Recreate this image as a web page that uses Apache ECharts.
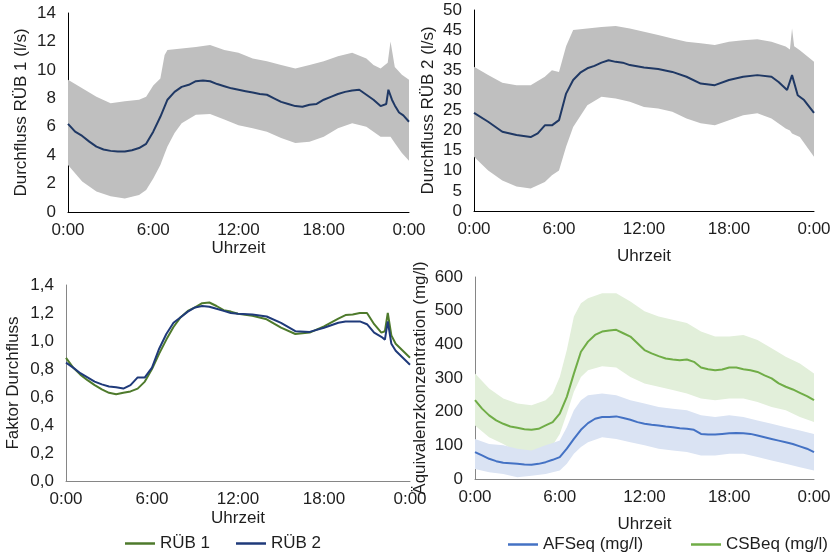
<!DOCTYPE html>
<html>
<head>
<meta charset="utf-8">
<script src="https://cdn.jsdelivr.net/npm/echarts@6/dist/echarts.min.js"></script>
<style>
  html, body { margin: 0; padding: 0; background: #fff; }
  #chart { width: 835px; height: 555px; }
</style>
</head>
<body>
<div id="chart"></div>
<script>
// Uhrzeit in Stunden (0..24)
var tQ1 = [0,0.5,1,1.5,2,2.5,3,3.5,4,4.5,5,5.5,6,6.5,7,7.5,8,8.5,9,9.5,10,10.5,11,11.5,12,12.5,13,13.5,14,14.5,15,15.5,16,16.5,17,17.5,18,18.5,19,19.5,20,20.5,21,21.5,22,22.4,22.55,22.8,23,23.3,23.6,24];
var q1Mittel = [6.2,5.65,5.35,4.95,4.6,4.4,4.3,4.25,4.25,4.35,4.5,4.8,5.65,6.7,7.9,8.45,8.8,8.95,9.2,9.25,9.2,9.0,8.85,8.7,8.6,8.5,8.4,8.3,8.25,8.0,7.75,7.6,7.45,7.4,7.55,7.6,7.9,8.1,8.3,8.45,8.55,8.6,8.25,7.9,7.45,7.6,8.6,7.9,7.5,7.0,6.8,6.35];
var tQ1Band = [0,1,2,3,4,5,5.5,6,6.5,6.8,7,7.5,8,9,10,11,12,13,14,15,16,17,18,19,20,21,21.5,22,22.5,22.7,23,23.5,24];
var q1Max = [9.3,8.7,8.1,7.65,7.8,7.9,8.1,8.9,9.4,11.05,11.4,11.45,11.5,11.6,11.75,11.4,11.2,10.8,10.6,10.35,10.1,10.35,10.6,10.95,11.2,10.8,10.35,10.1,10.5,12.0,10.2,9.65,9.3];
var q1Min = [3.3,2.15,1.45,1.1,0.95,1.2,1.55,2.35,3.3,4.1,4.6,5.55,6.25,6.85,6.9,6.5,6.1,5.9,5.65,5.2,4.85,4.95,5.3,5.9,6.25,6.0,5.65,5.3,5.3,5.3,4.85,4.15,3.6];

var tQ2 = [0,1,2,3,4,4.5,5,5.5,6,6.5,7,7.5,8,8.5,9,9.5,10,10.5,11,12,13,14,15,16,17,18,19,20,21,21.5,22.1,22.45,22.85,23.3,24];
var q2Mittel = [24.4,22.2,19.7,18.9,18.4,19.3,21.3,21.3,22.6,29.2,32.6,34.4,35.5,36.1,36.9,37.5,37.1,36.9,36.3,35.7,35.3,34.6,33.4,31.7,31.3,32.6,33.4,33.8,33.4,32.1,30.1,33.8,28.8,27.6,24.4];
var tQ2Band = [0,1,2,3,4,5,5.5,6,6.5,7,8,9,10,11,12,13,14,15,16,17,18,19,20,21,22,22.3,22.45,22.6,23,24];
var q2Max = [35.9,33.8,31.9,31.3,31.3,33.4,35,34.6,41,45,45.4,45.8,46,45.4,44.6,43.8,42.9,42.1,41.7,41.3,42.1,42.5,42.7,42.1,40.9,40.2,45.4,41,40,37.1];
var q2Min = [13.5,10.1,7.6,6.1,5.6,7.2,8.9,10.1,16,20.9,26.3,28.4,28,27.2,25.9,25.5,24.7,23,21.8,21.3,22.6,23.8,24.3,23,20.5,20,19.3,19,18.4,13.5];

var tFaktor = [0,0.5,1,1.5,2,2.5,3,3.5,4,4.5,5,5.5,6,6.5,7,7.5,8,8.5,9,9.5,10,10.5,11,11.5,12,13,14,15,16,17,18,19,19.5,20,20.5,21,21.5,22,22.25,22.45,22.7,23,23.5,24];
var faktorRUEB1 = [0.88,0.81,0.76,0.72,0.685,0.655,0.63,0.62,0.63,0.64,0.66,0.71,0.8,0.91,1.01,1.1,1.17,1.215,1.24,1.27,1.275,1.25,1.22,1.21,1.195,1.18,1.155,1.095,1.05,1.06,1.105,1.16,1.185,1.19,1.2,1.2,1.12,1.06,1.07,1.2,1.04,0.98,0.93,0.88];
var faktorRUEB2 = [0.845,0.81,0.77,0.74,0.71,0.69,0.675,0.67,0.66,0.685,0.74,0.74,0.81,0.945,1.05,1.13,1.17,1.21,1.24,1.25,1.245,1.23,1.215,1.2,1.195,1.19,1.175,1.13,1.07,1.065,1.095,1.13,1.14,1.14,1.14,1.12,1.06,1.03,1.01,1.14,0.98,0.93,0.88,0.83];

var tKonz = [0,0.5,1,1.5,2,2.5,3,3.5,4,4.5,5,5.5,6,6.5,7,7.5,8,8.5,9,9.5,10,10.5,11,11.5,12,12.5,13,13.5,14,14.5,15,15.5,16,16.5,17,17.5,18,18.5,19,19.5,20,20.5,21,21.5,22,22.5,23,23.5,24];
var afsMittel = [80,70,60,53,48,47,45,43,42,45,50,57,65,90,119,146,166,179,184,184,186,181,176,169,164,161,159,156,154,151,149,146,134,132,132,134,136,137,136,134,129,124,119,114,109,104,97,90,80];
var csbMittel = [234,209,189,174,164,156,152,148,146,149,159,169,194,244,313,378,408,428,438,441,443,433,423,403,383,373,365,358,355,353,355,348,331,326,323,325,331,331,326,323,318,308,299,284,274,266,256,246,234];
var tKonzBand = [0,1,2,3,4,5,5.5,6,6.5,7,7.5,8,9,10,11,12,13,14,15,16,17,18,19,20,21,22,23,24];
var afsMax = [119,104,100,90,85,100,107,114,154,204,234,249,254,249,234,224,214,209,204,189,184,189,184,174,164,154,144,134];
var afsMin = [30,20,15,5,10,15,20,25,45,75,95,109,124,119,109,100,90,85,80,70,70,75,75,65,55,45,35,25];
var csbMax = [313,269,239,224,219,234,254,303,383,483,522,537,552,552,527,498,483,473,463,438,423,423,428,413,388,363,343,313];
var csbMin = [159,124,104,80,75,85,100,134,194,259,303,323,335,331,303,284,274,264,254,239,234,239,239,229,214,204,184,169];

var FONT = 'Liberation Sans';
var TXT = '#1e1e1e';

function pairs(t, v) {
  return t.map(function (x, i) { return [x, v[i]]; });
}

// Streuband als Polygon: Obergrenze hin, Untergrenze zurück
function band(gi, t, lo, hi, color) {
  return {
    type: 'custom', xAxisIndex: gi, yAxisIndex: gi, silent: true, clip: true,
    data: pairs(t, hi),
    renderItem: function (params, api) {
      if (params.dataIndex !== 0) return;
      var pts = [];
      for (var i = 0; i < t.length; i++) pts.push(api.coord([t[i], hi[i]]));
      for (var j = t.length - 1; j >= 0; j--) pts.push(api.coord([t[j], lo[j]]));
      return { type: 'polygon', shape: { points: pts }, style: { fill: color } };
    }
  };
}

function line(gi, name, t, v, color) {
  return { type: 'line', name: name, xAxisIndex: gi, yAxisIndex: gi, data: pairs(t, v),
    symbol: 'none', lineStyle: { width: 2, color: color }, itemStyle: { color: color } };
}

function xAx(gi, gap, axisColor) {
  return {
    gridIndex: gi, type: 'value', min: 0, max: 24, interval: 6,
    name: 'Uhrzeit', nameLocation: 'middle', nameGap: gap,
    nameTextStyle: { fontFamily: FONT, fontSize: 17, color: TXT },
    axisLine: { show: true, onZero: false, lineStyle: { color: axisColor, width: 1 } },
    axisTick: { show: false }, splitLine: { show: false },
    axisLabel: { margin: 10, fontFamily: FONT, fontSize: 17, color: TXT,
      formatter: function (v) { return (v % 24) + ':00'; } }
  };
}

function yAx(gi, name, max, step, gap, axisColor, fmt) {
  return {
    gridIndex: gi, type: 'value', min: 0, max: max, interval: step,
    name: name, nameLocation: 'middle', nameGap: gap,
    nameTextStyle: { fontFamily: FONT, fontSize: 17, color: TXT },
    axisLine: { show: true, lineStyle: { color: axisColor, width: 1 } },
    axisTick: { show: false }, splitLine: { show: false },
    axisLabel: { margin: 12, fontFamily: FONT, fontSize: 17, color: TXT, formatter: fmt }
  };
}

function leg(name, left, top) {
  return { data: [name], left: left, top: top, icon: 'rect', itemWidth: 30, itemHeight: 2.5,
    itemGap: 0, textStyle: { fontFamily: FONT, fontSize: 17, color: TXT } };
}

var chart = echarts.init(document.getElementById('chart'));

var option = {
  animation: false,
  backgroundColor: '#fff',
  grid: [
    { left: 68, right: 426, top: 13, bottom: 343 },
    { left: 474, right: 21, top: 10, bottom: 344 },
    { left: 66, right: 425, top: 285, bottom: 74 },
    { left: 475, right: 21, top: 277, bottom: 76 }
  ],
  xAxis: [
    xAx(0, 27, '#000'),
    xAx(1, 37, '#000'),
    xAx(2, 29, '#868686'),
    xAx(3, 37, '#868686')
  ],
  yAxis: [
    yAx(0, 'Durchfluss RÜB 1 (l/s)', 14, 2, 38, '#000'),
    yAx(1, 'Durchfluss RÜB 2 (l/s)', 50, 5, 37, '#000'),
    yAx(2, 'Faktor Durchfluss', 1.4, 0.2, 44, '#868686',
      function (v) { return v.toFixed(1).replace('.', ','); }),
    yAx(3, 'Äquivalenzkonzentration (mg/l)', 600, 100, 46, '#868686')
  ],
  legend: [
    leg('RÜB 1', 120, 530),
    leg('RÜB 2', 231, 530),
    leg('AFSeq (mg/l)', 503, 531),
    leg('CSBeq (mg/l)', 686, 531)
  ],
  series: [
    band(0, tQ1Band, q1Min, q1Max, '#BFBFBF'),
    line(0, 'Q1', tQ1, q1Mittel, '#1F3864'),
    band(1, tQ2Band, q2Min, q2Max, '#BFBFBF'),
    line(1, 'Q2', tQ2, q2Mittel, '#1F3864'),
    line(2, 'RÜB 1', tFaktor, faktorRUEB1, '#4E7A2C'),
    line(2, 'RÜB 2', tFaktor, faktorRUEB2, '#1F3A7A'),
    band(3, tKonzBand, csbMin, csbMax, '#E2EFDA'),
    band(3, tKonzBand, afsMin, afsMax, '#DAE3F3'),
    line(3, 'AFSeq (mg/l)', tKonz, afsMittel, '#4472C4'),
    line(3, 'CSBeq (mg/l)', tKonz, csbMittel, '#70AD47')
  ]
};

chart.setOption(option);
</script>
</body>
</html>
